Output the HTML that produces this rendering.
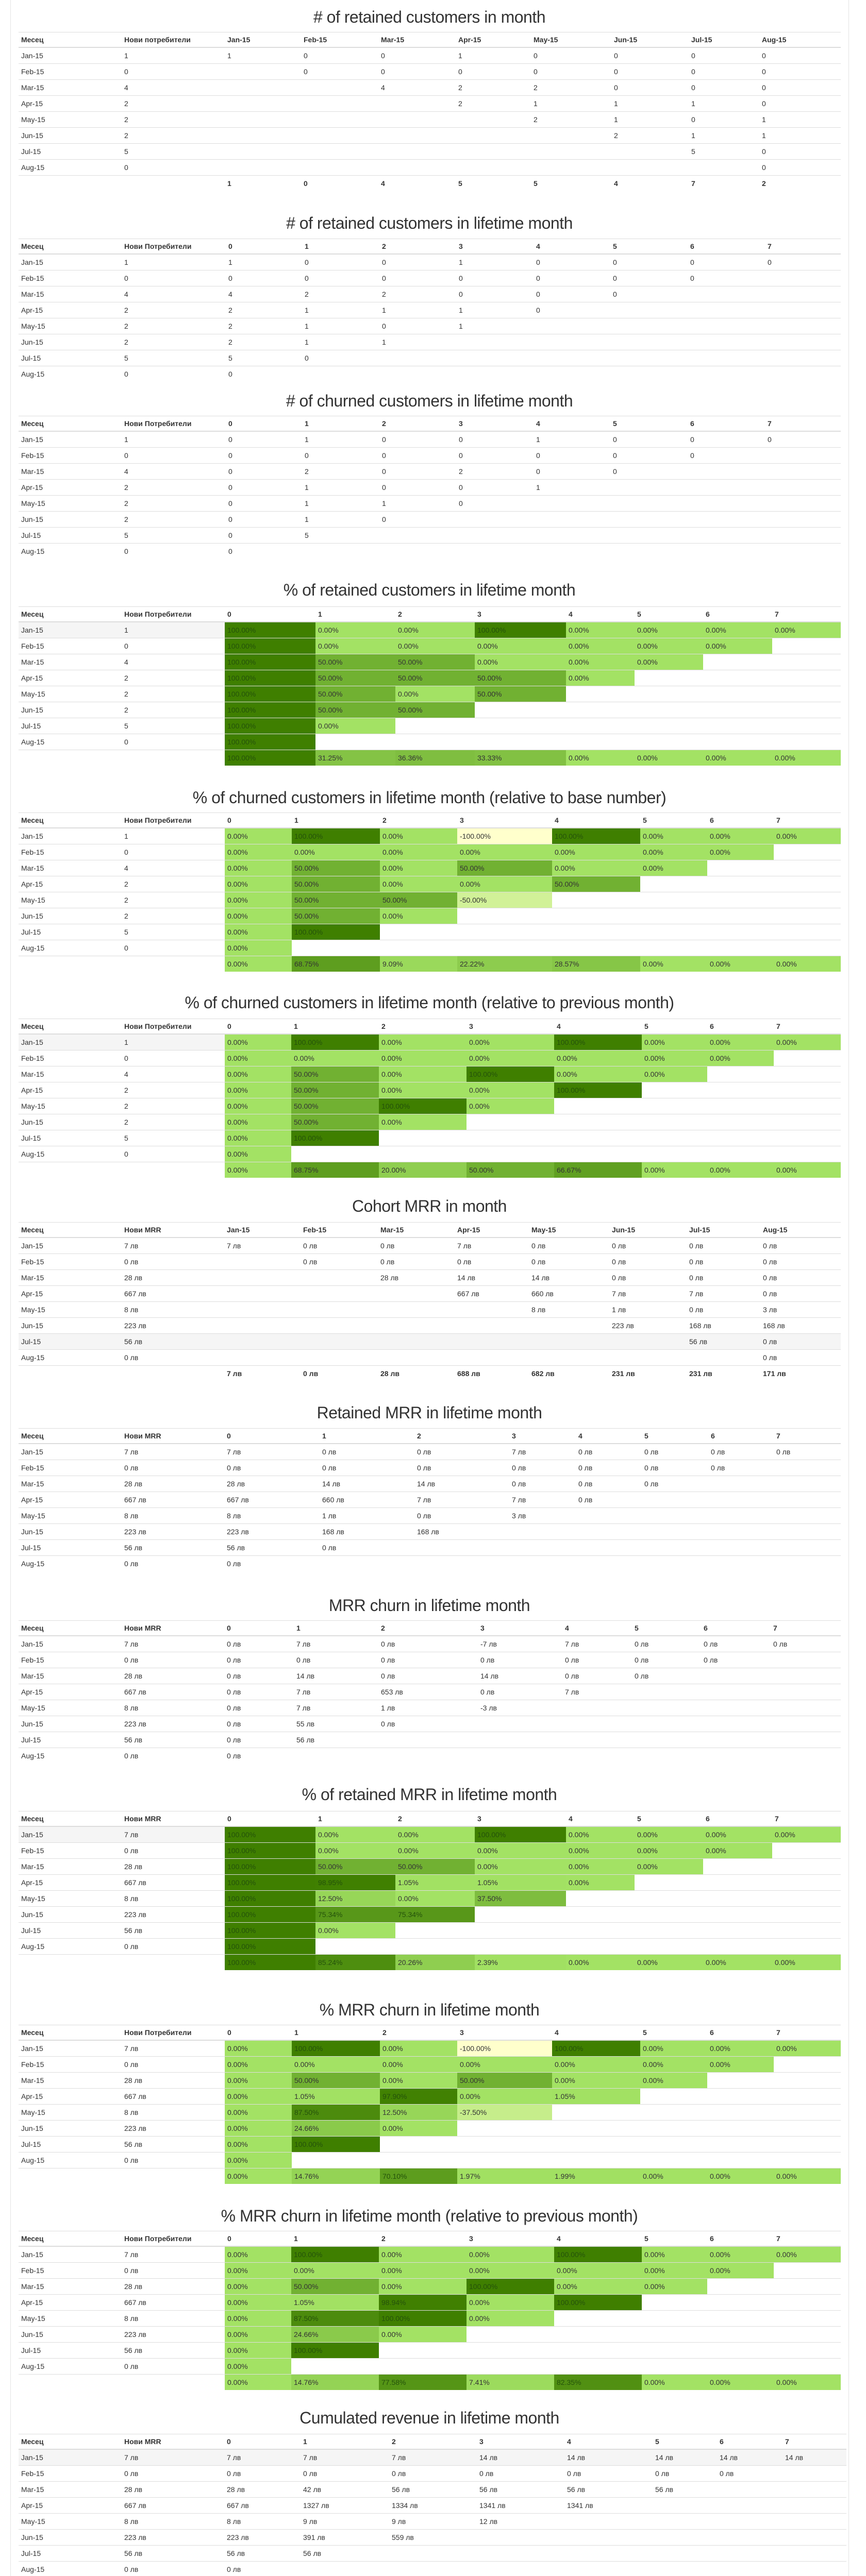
<!DOCTYPE html>
<html><head><meta charset="utf-8">
<style>
html{width:1680px;height:5018px;overflow:hidden;}
html,body{margin:0;padding:0;background:#fff;}
body{width:1680px;height:5018px;position:relative;overflow:hidden;font-family:"Liberation Sans",sans-serif;color:#333;}
.frame{position:absolute;top:0;width:1px;height:5018px;background:#e3e3e3;}
.title{position:absolute;left:20px;width:1626px;height:44px;line-height:44px;text-align:center;font-size:32px;color:#333;letter-spacing:-0.5px;}
table{position:absolute;border-collapse:collapse;table-layout:fixed;font-size:14px;}
td,th{height:30px;padding:0 0 0 5px;border-top:1px solid #ddd;text-align:left;white-space:nowrap;overflow:hidden;vertical-align:middle;}
th{font-weight:bold;border-bottom:2px solid #ddd;height:28px;}
tr.hover td.lab{background:#f5f5f5;}
tr.hover.full td{background:#f5f5f5;}
.bold td{font-weight:bold;}
</style></head>
<body>
<div class="frame" style="left:20px"></div>
<div class="frame" style="left:1646px"></div>
<div id="root"></div>
<script>
const months = ["Jan-15","Feb-15","Mar-15","Apr-15","May-15","Jun-15","Jul-15","Aug-15"];
const lifetime = ["0","1","2","3","4","5","6","7"];
const newCustomers = [1,0,4,2,2,2,5,0];
const newMRR = [7,0,28,667,8,223,56,0];
const _ = null;

const retainedInMonth = [[1,0,0,1,0,0,0,0],[_,0,0,0,0,0,0,0],[_,_,4,2,2,0,0,0],[_,_,_,2,1,1,1,0],[_,_,_,_,2,1,0,1],[_,_,_,_,_,2,1,1],[_,_,_,_,_,_,5,0],[_,_,_,_,_,_,_,0]];
const retainedInMonthTotals = [1,0,4,5,5,4,7,2];
const retainedLifetime = [[1,0,0,1,0,0,0,0],[0,0,0,0,0,0,0],[4,2,2,0,0,0],[2,1,1,1,0],[2,1,0,1],[2,1,1],[5,0],[0]];
const churnedLifetime = [[0,1,0,0,1,0,0,0],[0,0,0,0,0,0,0],[0,2,0,2,0,0],[0,1,0,0,1],[0,1,1,0],[0,1,0],[0,5],[0]];
const pctRetained = [[100,0,0,100,0,0,0,0],[100,0,0,0,0,0,0],[100,50,50,0,0,0],[100,50,50,50,0],[100,50,0,50],[100,50,50],[100,0],[100]];
const pctRetainedTotals = [100,31.25,36.36,33.33,0,0,0,0];
const pctChurnBase = [[0,100,0,-100,100,0,0,0],[0,0,0,0,0,0,0],[0,50,0,50,0,0],[0,50,0,0,50],[0,50,50,-50],[0,50,0],[0,100],[0]];
const pctChurnBaseTotals = [0,68.75,9.09,22.22,28.57,0,0,0];
const pctChurnPrev = [[0,100,0,0,100,0,0,0],[0,0,0,0,0,0,0],[0,50,0,100,0,0],[0,50,0,0,100],[0,50,100,0],[0,50,0],[0,100],[0]];
const pctChurnPrevTotals = [0,68.75,20,50,66.67,0,0,0];
const cohortMRR = [[7,0,0,7,0,0,0,0],[_,0,0,0,0,0,0,0],[_,_,28,14,14,0,0,0],[_,_,_,667,660,7,7,0],[_,_,_,_,8,1,0,3],[_,_,_,_,_,223,168,168],[_,_,_,_,_,_,56,0],[_,_,_,_,_,_,_,0]];
const cohortMRRTotals = [7,0,28,688,682,231,231,171];
const retainedMRR = [[7,0,0,7,0,0,0,0],[0,0,0,0,0,0,0],[28,14,14,0,0,0],[667,660,7,7,0],[8,1,0,3],[223,168,168],[56,0],[0]];
const churnMRR = [[0,7,0,-7,7,0,0,0],[0,0,0,0,0,0,0],[0,14,0,14,0,0],[0,7,653,0,7],[0,7,1,-3],[0,55,0],[0,56],[0]];
const pctRetainedMRR = [[100,0,0,100,0,0,0,0],[100,0,0,0,0,0,0],[100,50,50,0,0,0],[100,98.95,1.05,1.05,0],[100,12.5,0,37.5],[100,75.34,75.34],[100,0],[100]];
const pctRetainedMRRTotals = [100,85.24,20.26,2.39,0,0,0,0];
const pctChurnMRR = [[0,100,0,-100,100,0,0,0],[0,0,0,0,0,0,0],[0,50,0,50,0,0],[0,1.05,97.90,0,1.05],[0,87.5,12.5,-37.5],[0,24.66,0],[0,100],[0]];
const pctChurnMRRTotals = [0,14.76,70.10,1.97,1.99,0,0,0];
const pctChurnMRRPrev = [[0,100,0,0,100,0,0,0],[0,0,0,0,0,0,0],[0,50,0,100,0,0],[0,1.05,98.94,0,100],[0,87.5,100,0],[0,24.66,0],[0,100],[0]];
const pctChurnMRRPrevTotals = [0,14.76,77.58,7.41,82.35,0,0,0];
const cumulatedRevenue = [[7,7,7,14,14,14,14,14],[0,0,0,0,0,0,0],[28,42,56,56,56,56],[667,1327,1334,1341,1341],[8,9,9,12],[223,391,559],[56,56],[0]];

function mix(a,b,t){return a.map((v,i)=>Math.round(v+(b[i]-v)*t));}
function heatColor(p){
  const dark=[63,127,0], mid=[163,226,100], neg=[255,255,204];
  const c = p>=0 ? mix(mid,dark,Math.min(p,100)/100) : mix(mid,neg,Math.min(-p,100)/100);
  return 'rgb('+c.join(',')+')';
}
const lv = v => v+' лв';
const num = v => String(v);
const pct = v => v.toFixed(2)+'%';

const root = document.getElementById('root');
function build(cfg){
  const t = document.createElement('div');
  t.className='title';
  t.style.top=(cfg.titleY-22)+'px';
  t.textContent=cfg.title;
  
  
  root.appendChild(t);
  const tb = document.createElement('table');
  
  
  const edges = cfg.edges;
  tb.style.left=edges[0]+'px'; tb.style.top=cfg.tableY+'px';
  tb.style.width=(edges[edges.length-1]-edges[0])+'px';
  const cg=document.createElement('colgroup');
  for(let i=0;i<edges.length-1;i++){const c=document.createElement('col');c.style.width=(edges[i+1]-edges[i])+'px';cg.appendChild(c);}
  tb.appendChild(cg);
  const thead=document.createElement('thead');const hr=document.createElement('tr');
  ['Месец',cfg.newHead].concat(cfg.cols).forEach(h=>{const th=document.createElement('th');th.textContent=h;
    
    
    hr.appendChild(th);});
  thead.appendChild(hr);tb.appendChild(thead);
  const tbody=document.createElement('tbody');
  months.forEach((m,r)=>{
    const tr=document.createElement('tr');
    
    
    if(cfg.hover===r) tr.className='hover'+(cfg.hoverFull?' full':'');
    const l=document.createElement('td');l.className='lab';l.textContent=m;
    
    
    tr.appendChild(l);
    const n=document.createElement('td');n.className='lab';n.textContent=cfg.newFmt(cfg.news[r]);
    
    
    tr.appendChild(n);
    for(let c=0;c<8;c++){
      const td=document.createElement('td');
      const v=cfg.cells[r][c];
      if(v!==undefined && v!==null){
        td.textContent=cfg.fmt(v);
        if(cfg.heat){td.style.background=heatColor(v); if(v>=70) td.style.color='#24520a';}
      }
      
      
      tr.appendChild(td);
    }
    tbody.appendChild(tr);
  });
  if(cfg.totals){
    const tr=document.createElement('tr');
    if(cfg.totalsBold) tr.className='bold';
    
    
    tr.appendChild(document.createElement('td'));tr.appendChild(document.createElement('td'));
    cfg.totals.forEach(v=>{const td=document.createElement('td');td.textContent=cfg.fmt(v);
      if(cfg.heat){td.style.background=heatColor(v); if(v>=70) td.style.color='#24520a';}
      
      
      tr.appendChild(td);});
    tbody.appendChild(tr);
  }
  tb.appendChild(tbody);root.appendChild(tb);
}
const E1=[36,236,436,584,734,884,1030,1186,1336,1473,1631];
const E2=[36,236,438,586,736,885,1035,1184,1334,1484,1631];
const E4=[36,236,436,612,767,921,1098,1231,1364,1498,1631];
const E5=[36,236,436,566,737,887,1071,1242,1372,1501,1631];
const E6=[36,236,436,565,735,905,1075,1245,1372,1501,1631];
const E7=[36,236,435,583,733,882,1026,1182,1332,1475,1631];
const E8=[36,236,435,620,804,988,1117,1245,1374,1501,1631];
const E9=[36,236,435,570,734,927,1091,1226,1360,1495,1631];
const E13=[36,236,435,583,755,925,1095,1266,1391,1518,1642];
const NP='Нови потребители', NPc='Нови Потребители', NM='Нови MRR';
[
 {name:'retained-in-month-table',title:'# of retained customers in month',titleY:33,tableY:62,edges:E1,newHead:NP,cols:months,news:newCustomers,newFmt:num,cells:retainedInMonth,fmt:num,totals:retainedInMonthTotals,totalsBold:true},
 {name:'retained-lifetime-table',title:'# of retained customers in lifetime month',titleY:433,tableY:463,edges:E2,newHead:NPc,cols:lifetime,news:newCustomers,newFmt:num,cells:retainedLifetime,fmt:num},
 {name:'churned-lifetime-table',title:'# of churned customers in lifetime month',titleY:778,tableY:807,edges:E2,newHead:NPc,cols:lifetime,news:newCustomers,newFmt:num,cells:churnedLifetime,fmt:num},
 {name:'pct-retained-table',title:'% of retained customers in lifetime month',titleY:1145,tableY:1177,edges:E4,newHead:NPc,cols:lifetime,news:newCustomers,newFmt:num,cells:pctRetained,fmt:pct,heat:true,totals:pctRetainedTotals,hover:0},
 {name:'pct-churned-base-table',title:'% of churned customers in lifetime month (relative to base number)',titleY:1548,tableY:1577,edges:E5,newHead:NPc,cols:lifetime,news:newCustomers,newFmt:num,cells:pctChurnBase,fmt:pct,heat:true,totals:pctChurnBaseTotals},
 {name:'pct-churned-prev-table',title:'% of churned customers in lifetime month (relative to previous month)',titleY:1946,tableY:1977,edges:E6,newHead:NPc,cols:lifetime,news:newCustomers,newFmt:num,cells:pctChurnPrev,fmt:pct,heat:true,totals:pctChurnPrevTotals,hover:0},
 {name:'cohort-mrr-table',title:'Cohort MRR in month',titleY:2341,tableY:2372,edges:E7,newHead:NM,cols:months,news:newMRR,newFmt:lv,cells:cohortMRR,fmt:lv,totals:cohortMRRTotals,totalsBold:true,hover:6,hoverFull:true},
 {name:'retained-mrr-table',title:'Retained MRR in lifetime month',titleY:2742,tableY:2772,edges:E8,newHead:NM,cols:lifetime,news:newMRR,newFmt:lv,cells:retainedMRR,fmt:lv},
 {name:'mrr-churn-table',title:'MRR churn in lifetime month',titleY:3116,tableY:3145,edges:E9,newHead:NM,cols:lifetime,news:newMRR,newFmt:lv,cells:churnMRR,fmt:lv},
 {name:'pct-retained-mrr-table',title:'% of retained MRR in lifetime month',titleY:3483,tableY:3515,edges:E4,newHead:NM,cols:lifetime,news:newMRR,newFmt:lv,cells:pctRetainedMRR,fmt:pct,heat:true,totals:pctRetainedMRRTotals,hover:0},
 {name:'pct-mrr-churn-table',title:'% MRR churn in lifetime month',titleY:3901,tableY:3930,edges:E5,newHead:NPc,cols:lifetime,news:newMRR,newFmt:lv,cells:pctChurnMRR,fmt:pct,heat:true,totals:pctChurnMRRTotals},
 {name:'pct-mrr-churn-prev-table',title:'% MRR churn in lifetime month (relative to previous month)',titleY:4301,tableY:4330,edges:E6,newHead:NPc,cols:lifetime,news:newMRR,newFmt:lv,cells:pctChurnMRRPrev,fmt:pct,heat:true,totals:pctChurnMRRPrevTotals},
 {name:'cumulated-revenue-table',title:'Cumulated revenue in lifetime month',titleY:4693,tableY:4724,edges:E13,newHead:NM,cols:lifetime,news:newMRR,newFmt:lv,cells:cumulatedRevenue,fmt:lv,hover:0,hoverFull:true}
].forEach(build);
</script>
</body></html>
